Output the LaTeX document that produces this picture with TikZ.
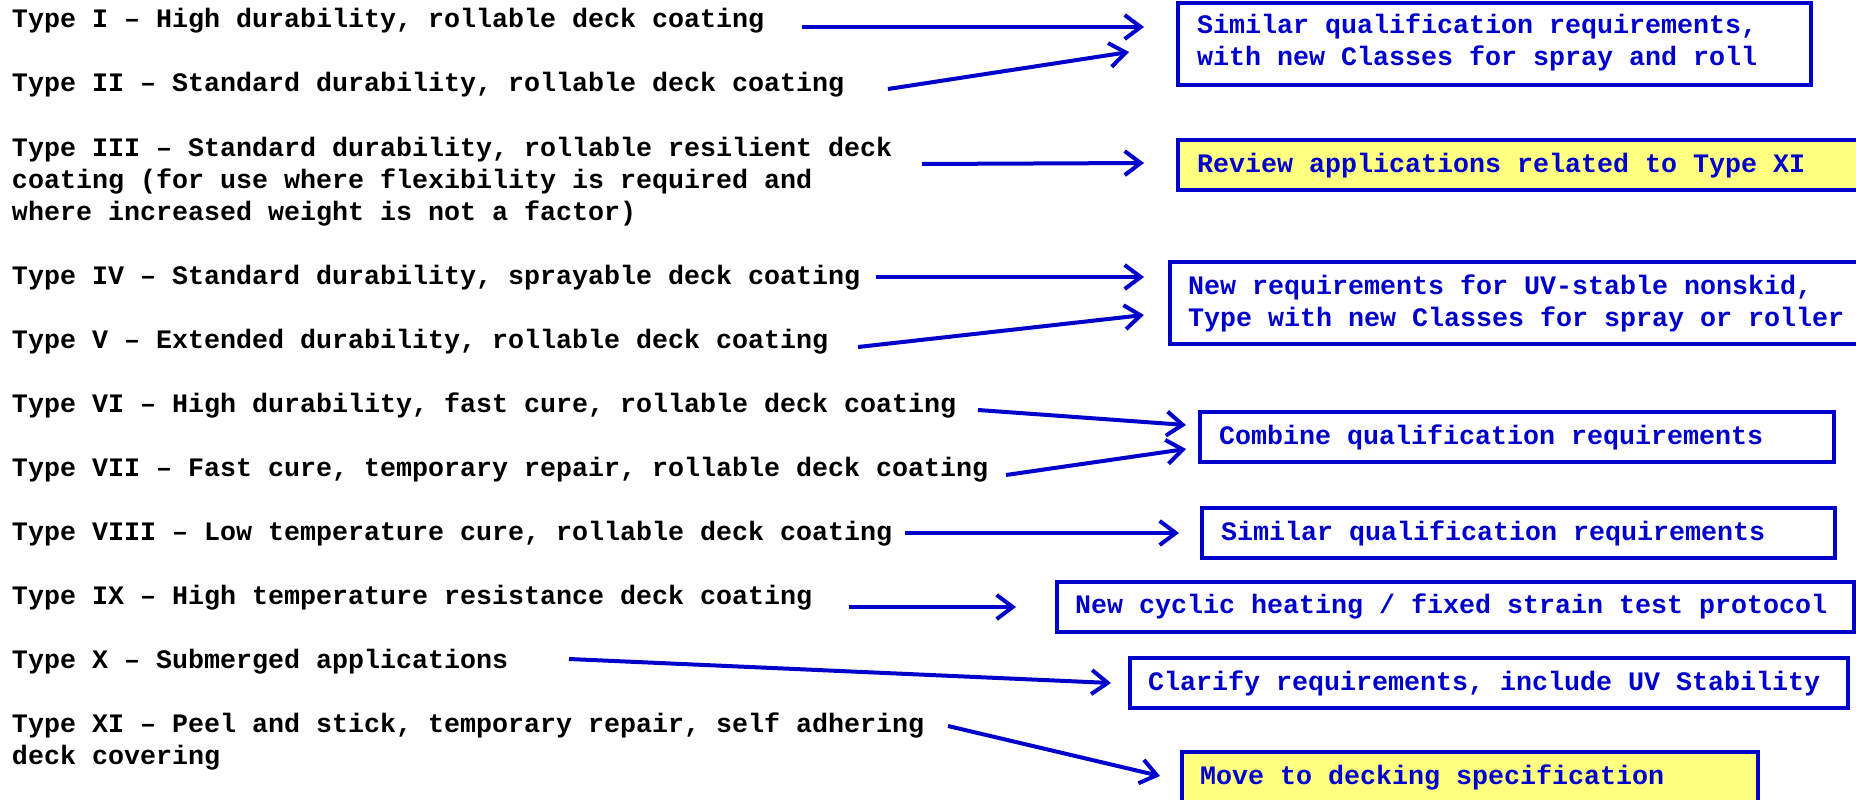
\documentclass[tikz,border=0pt]{standalone}
\usepackage{fontspec}
\setmonofont{Liberation Mono}
\usetikzlibrary{arrows.meta}
\definecolor{dblue}{RGB}{0,0,204}
\definecolor{lyellow}{RGB}{255,255,128}
\begin{document}
\begin{tikzpicture}[x=1pt,y=-1pt,
  ltxt/.style={anchor=base west, inner sep=0pt, outer sep=0pt,
    font=\ttfamily\bfseries\fontsize{26.67}{32}\selectfont, align=left},
  btxt/.style={ltxt, text=dblue},
  boxbase/.style={draw=dblue, line width=4pt, inner sep=0pt, outer sep=0pt, anchor=north west},
  wbox/.style={boxbase, fill=white},
  ybox/.style={boxbase, fill=lyellow},
  arr/.style={draw=dblue, line width=4pt, -{Straight Barb[length=16pt,width=24pt]}}]
\useasboundingbox (0,0) rectangle (1856,800);
\clip (0,0) rectangle (1856,800);
\fill[white] (0,0) rectangle (1856,800);

% left texts (multi-line nodes are placed at the baseline of their last line)
\node[ltxt] (t1) at (12,28) {Type I – High durability, rollable deck coating};
\node[ltxt] (t2) at (12,92) {Type II – Standard durability, rollable deck coating};
\node[ltxt] (t3) at (12,220) {Type III – Standard durability, rollable resilient deck\\coating (for use where flexibility is required and\\where increased weight is not a factor)};
\node[ltxt] (t4) at (12,284) {Type IV – Standard durability, sprayable deck coating};
\node[ltxt] (t5) at (12,348) {Type V – Extended durability, rollable deck coating};
\node[ltxt] (t6) at (12,412) {Type VI – High durability, fast cure, rollable deck coating};
\node[ltxt] (t7) at (12,476) {Type VII – Fast cure, temporary repair, rollable deck coating};
\node[ltxt] (t8) at (12,540) {Type VIII – Low temperature cure, rollable deck coating};
\node[ltxt] (t9) at (12,604) {Type IX – High temperature resistance deck coating};
\node[ltxt] (t10) at (12,668) {Type X – Submerged applications};
\node[ltxt] (t11) at (12,764) {Type XI – Peel and stick, temporary repair, self adhering\\deck covering};

% boxes
\node[wbox, minimum width=633pt, minimum height=82pt] (b1) at (1178,3) {};
\node[ybox, minimum width=702pt, minimum height=50pt] (b2) at (1178,140) {};
\node[wbox, minimum width=710pt, minimum height=82pt] (b3) at (1170,262) {};
\node[wbox, minimum width=634pt, minimum height=50pt] (b4) at (1200,412) {};
\node[wbox, minimum width=633pt, minimum height=50pt] (b5) at (1202,508) {};
\node[wbox, minimum width=797pt, minimum height=50pt] (b6) at (1057,582) {};
\node[wbox, minimum width=718pt, minimum height=50pt] (b7) at (1130,658) {};
\node[ybox, minimum width=576pt, minimum height=78pt] (b8) at (1182,752) {};

% box texts
\node[btxt] (r1) at (1197,66) {Similar qualification requirements,\\with new Classes for spray and roll};
\node[btxt] (r2) at (1197,172) {Review applications related to Type XI};
\node[btxt] (r3) at (1188,326) {New requirements for UV-stable nonskid,\\Type with new Classes for spray or roller};
\node[btxt] (r4) at (1219,444) {Combine qualification requirements};
\node[btxt] (r5) at (1221,540) {Similar qualification requirements};
\node[btxt] (r6) at (1075,613) {New cyclic heating / fixed strain test protocol};
\node[btxt] (r7) at (1148,690) {Clarify requirements, include UV Stability};
\node[btxt] (r8) at (1200,784) {Move to decking specification};

% arrow end points
\coordinate (s1) at (802,27);   \coordinate (e1) at (1144,27);
\coordinate (s2) at (888,89);   \coordinate (e2) at (1129,52);
\coordinate (s3) at (922,164);  \coordinate (e3) at (1144,163);
\coordinate (s4) at (876,277);  \coordinate (e4) at (1144,277);
\coordinate (s5) at (858,347);  \coordinate (e5) at (1144,315);
\coordinate (s6) at (978,410);  \coordinate (e6) at (1186,425);
\coordinate (s7) at (1006,475); \coordinate (e7) at (1186,449);
\coordinate (s8) at (905,533);  \coordinate (e8) at (1179,533);
\coordinate (s9) at (849,607);  \coordinate (e9) at (1016,607);
\coordinate (s10) at (569,659); \coordinate (e10) at (1111,683);
\coordinate (s11) at (948,726); \coordinate (e11) at (1160,776);

\foreach \i in {1,...,11} \draw[arr] (s\i) -- (e\i);
\end{tikzpicture}
\end{document}
